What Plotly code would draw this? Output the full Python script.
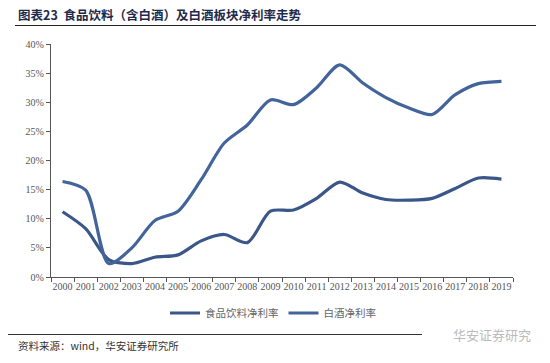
import plotly.graph_objects as go

years = [str(y) for y in range(2000, 2020)]
food_bev = [11.2, 8.3, 3.0, 2.3, 3.4, 3.8, 6.2, 7.3, 5.9, 11.3, 11.5, 13.5, 16.3, 14.4, 13.3, 13.2, 13.5, 15.2, 17.0, 16.8]
baijiu = [16.4, 14.9, 2.3, 5.0, 9.7, 11.3, 16.7, 23.0, 26.1, 30.4, 29.6, 32.5, 36.4, 33.3, 30.8, 29.0, 27.9, 31.3, 33.2, 33.6]
names = ["食品饮料净利率", "白酒净利率"]
yticks = [0, 5, 10, 15, 20, 25, 30, 35, 40]
yticklabels = [f"{v}%" for v in yticks]

L, R, T, B = 51, 37, 44, 86
W, H = 550, 363
ph = H - T - B
pw = W - L - R

def py(pix):
    return (H - B - pix) / ph

def px(pix):
    return (pix - L) / pw

fig = go.Figure()
fig.add_trace(go.Scatter(x=years, y=food_bev, name=names[0], mode="lines",
                         line=dict(color="#3b5688", width=3.2, shape="spline", smoothing=0.8)))
fig.add_trace(go.Scatter(x=years, y=baijiu, name=names[1], mode="lines",
                         line=dict(color="#42649a", width=3.2, shape="spline", smoothing=0.8)))

tickfont = dict(family="Liberation Serif, serif", size=10, color="#555555")
fig.update_xaxes(type="category", range=[-0.5, 19.5], showgrid=False, showline=True,
                 linecolor="#555555", linewidth=1.3, ticks="outside", tickson="boundaries",
                 ticklen=4, tickcolor="#555555", tickfont=tickfont, tickangle=0, fixedrange=True)
fig.update_yaxes(range=[0, 40], tickmode="array", tickvals=yticks, ticktext=yticklabels,
                 showgrid=False, showline=True,
                 linecolor="#555555", linewidth=1.3, ticks="outside", ticklen=4,
                 tickcolor="#555555", tickfont=tickfont, zeroline=False, fixedrange=True)

fig.update_layout(
    width=W, height=H,
    margin=dict(l=L, r=R, t=T, b=B),
    plot_bgcolor="white", paper_bgcolor="white",
    showlegend=True,
    legend=dict(orientation="h", x=px(165), xanchor="left", y=py(313), yanchor="middle",
                font=dict(family="Noto Sans CJK SC", size=10.5, color="#666666"),
                itemwidth=30, tracegroupgap=0, bgcolor="rgba(0,0,0,0)"),
    shapes=[
        dict(type="line", xref="paper", yref="paper", x0=px(15), x1=px(536), y0=py(25.5), y1=py(25.5),
             line=dict(color="#222222", width=1.2)),
        dict(type="line", xref="paper", yref="paper", x0=px(8), x1=px(422), y0=py(334.5), y1=py(334.5),
             line=dict(color="#333333", width=1.2)),
    ],
    annotations=[
        dict(text="<b>图表23  食品饮料（含白酒）及白酒板块净利率走势</b>", xref="paper", yref="paper",
             x=px(16), y=py(15), xanchor="left", yanchor="middle", showarrow=False,
             font=dict(family="Noto Sans CJK SC", size=12.5, color="#1f2a4a")),
        dict(text="资料来源：wind，华安证券研究所", xref="paper", yref="paper",
             x=px(16), y=py(345), xanchor="left", yanchor="middle", showarrow=False,
             font=dict(family="Noto Sans CJK SC", size=10.5, color="#333333")),
        dict(text="华安证券研究", xref="paper", yref="paper",
             x=px(533), y=py(334), xanchor="right", yanchor="middle", showarrow=False,
             font=dict(family="Noto Sans CJK SC", size=13, color="#bbbbbb")),
    ],
)

fig.write_html("out.html", config={"displayModeBar": False},
               post_script="document.body.style.margin='0';")
